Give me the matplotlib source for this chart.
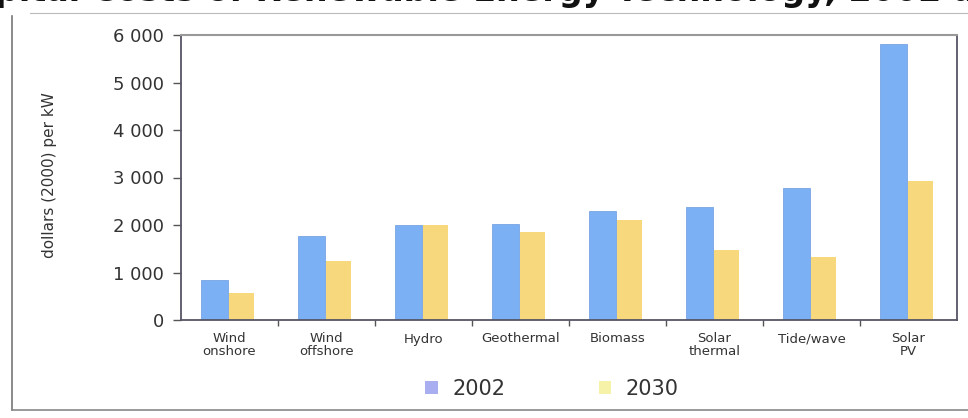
import matplotlib
matplotlib.use("Agg")
import matplotlib.pyplot as plt
from matplotlib.patches import Patch
from matplotlib.lines import Line2D
import numpy as np

categories = ["Wind\nonshore", "Wind\noffshore", "Hydro", "Geothermal", "Biomass",
              "Solar\nthermal", "Tide/wave", "Solar\nPV"]
costs_2002 = [850, 1760, 2000, 2030, 2300, 2380, 2780, 5820]
costs_2030 = [560, 1250, 2000, 1860, 2100, 1480, 1330, 2920]
yticks = [0, 1000, 2000, 3000, 4000, 5000, 6000]
ytick_labels = ["0", "1 000", "2 000", "3 000", "4 000", "5 000", "6 000"]
series_names = ["2002", "2030"]

plt.rcParams['font.family'] = ['DejaVu Sans']

fig = plt.figure(figsize=(9.68, 4.18), dpi=100)
W, H = 968, 418
ax = fig.add_axes([181 / W, 1 - 320 / H, (957 - 181) / W, (320 - 35) / H])

x = np.arange(len(categories)) + 0.5
blue = "#7cb0f4"
yellow = "#f8d87c"
ax.bar(x - 0.155, costs_2002, width=0.28, color=blue, edgecolor="#6a9ae0", linewidth=0.5)
ax.bar(x + 0.125, costs_2030, width=0.26, color=yellow, edgecolor="none")

ax.set_xlim(0, len(categories))
ax.set_ylim(0, 6000)
ax.set_yticks(yticks)
ax.set_yticklabels(ytick_labels, fontsize=13, color="#333333")
ax.tick_params(axis='y', length=6, width=1, color="#555555", pad=6)

ax.set_xticks(x)
ax.set_xticklabels(categories, fontsize=9.5, color="#333333", linespacing=0.95)
ax.tick_params(axis='x', which='major', length=0, pad=9)
ax.set_xticks(np.arange(1, len(categories)), minor=True)
ax.tick_params(axis='x', which='minor', length=4, width=1, color="#555555")

for side in ["left", "bottom", "right"]:
    ax.spines[side].set_color("#555566")
    ax.spines[side].set_linewidth(1.3)
ax.spines["top"].set_color("#999999")
ax.spines["top"].set_linewidth(1.5)

fig.text(50 / W, 1 - 175 / H, "dollars (2000) per kW", rotation=90,
         ha="center", va="center", fontsize=11, color="#333333")

handles = [Patch(facecolor="#a8aef0", edgecolor="none"),
           Patch(facecolor="#f6f2a8", edgecolor="none")]
fig.legend(handles, series_names, loc="center", bbox_to_anchor=(552 / W, 1 - 389 / H),
           ncol=2, frameon=False, fontsize=15, handlelength=0.6, handleheight=0.6,
           handletextpad=0.7, columnspacing=4.5, labelcolor="#333333")

# Clipped title from the scanned page (the reference shows only its lower edge)
fig.text(-0.005, 1 - 1 / H, "pital Costs of Renewable Energy Technology, 2002 and 2030",
         ha="left", va="baseline", fontsize=24, fontweight="bold", color="#111111")

# Scanned outer frame
fig.add_artist(Line2D([12 / W, 12 / W], [1 - 410 / H, 1 - 16 / H], color="#777777", lw=1.2))
fig.add_artist(Line2D([12 / W, 1.0], [1 - 410 / H, 1 - 410 / H], color="#888888", lw=1.2))
fig.add_artist(Line2D([30 / W, 1.0], [1 - 13 / H, 1 - 13 / H], color="#bbbbbb", lw=0.8))

fig.savefig("out.png", dpi=100)
